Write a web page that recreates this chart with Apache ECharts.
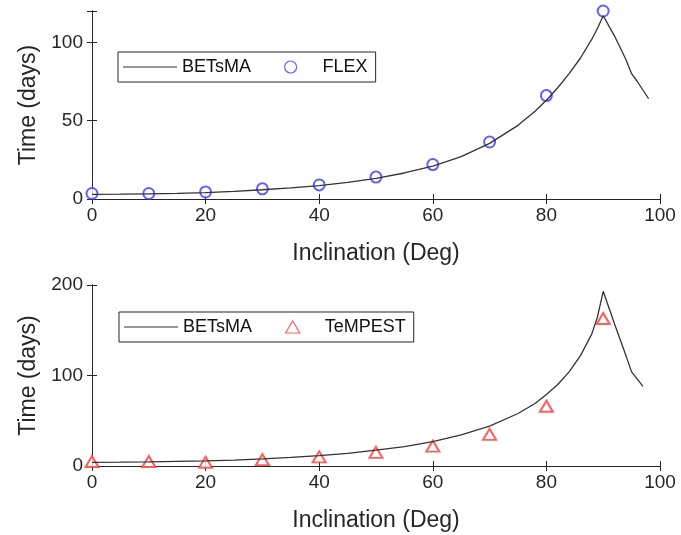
<!DOCTYPE html>
<html><head><meta charset="utf-8">
<script src="https://cdn.jsdelivr.net/npm/echarts@6/dist/echarts.min.js"></script>
<style>html,body{margin:0;padding:0;background:#fff}#c{width:681px;height:535px}</style>
</head><body><div id="c"></div>
<script>
// Top panel: BETsMA vs FLEX
const betsmaTopX = [0,5,10,15,20,25,30,35,40,45,50,55,60,65,70,75,78,80,82,84,86,88,89,90,92,94,95,96,98];
const betsmaTopY = [3,3.1,3.3,3.6,4.1,4.9,5.9,7.1,8.6,10.6,13.2,16.6,21,27,35.5,47,56,63,71,80,90,102,109,117,104,89,80,75,64];
const flexX = [0,10,20,30,40,50,60,70,80,90];
const flexY = [3.5,3.5,4.5,6.5,9,14,22,36.4,66,120];
// Bottom panel: BETsMA vs TeMPEST
const betsmaBotX = [0,5,10,15,20,25,30,35,40,45,50,55,60,65,70,75,78,80,82,84,86,88,89,90,92,94,95,97];
const betsmaBotY = [4,4.2,4.5,5,5.6,6.6,7.8,9.5,11.5,14,17.5,21.5,27,34.5,44,58,69,79,90,104,122,146,165,193,157,122,104,88];
const tempestX = [0,10,20,30,40,50,60,70,80,90];
const tempestY = [5,5,4,7,10,15,22,35,66,163];
const xTicks = [0,20,40,60,80,100];
const topYTicks = [0,50,100];
const botYTicks = [0,100,200];

const pairs = (xs, ys) => xs.map((x, i) => [x, ys[i]]);
const TXT = '#262626';
const FONT = 'Liberation Sans, Arial, sans-serif';
const BLUE = '#3a3aff';
const RED = '#ff3a3a';
const LINE_ICON = 'path://M0,0 H54 V1.2 H0 Z';
const CIRCLE_ICON = 'path://M10,5 A5,5 0 1 1 0,5 A5,5 0 1 1 10,5 Z';
const TRI_ICON = 'path://M6.5,0 L13,11 L0,11 Z';

function xAx(grid) {
  return [{
    type: 'value', gridIndex: grid, min: 0, max: 100, interval: 20, position: 'bottom',
    axisLine: {show: true, lineStyle: {color: TXT, width: 1}},
    axisTick: {show: true, inside: true, length: 5, lineStyle: {color: TXT}},
    axisLabel: {color: TXT, fontSize: 19, fontFamily: FONT, margin: 7,
      formatter: v => xTicks.includes(v) ? String(v) : ''},
    splitLine: {show: false},
    name: 'Inclination (Deg)', nameLocation: 'middle', nameGap: 43,
    nameTextStyle: {color: TXT, fontSize: 23, fontFamily: FONT}
  }, {
    type: 'value', gridIndex: grid, min: 0, max: 100, interval: 20, position: 'top',
    axisLine: {show: true, lineStyle: {color: TXT, width: 1}},
    axisTick: {show: true, inside: true, length: 5, lineStyle: {color: TXT}},
    axisLabel: {show: false}, splitLine: {show: false}
  }];
}
function yAx(grid, max, interval, ticks) {
  return [{
    type: 'value', gridIndex: grid, min: 0, max: max, interval: interval, position: 'left',
    axisLine: {show: true, lineStyle: {color: TXT, width: 1}},
    axisTick: {show: true, inside: true, length: 5, lineStyle: {color: TXT}},
    axisLabel: {color: TXT, fontSize: 19, fontFamily: FONT, margin: 9,
      formatter: v => ticks.includes(v) ? String(v) : ''},
    splitLine: {show: false},
    name: 'Time (days)', nameLocation: 'middle', nameGap: 47,
    nameTextStyle: {color: TXT, fontSize: 23, fontFamily: FONT}
  }, {
    type: 'value', gridIndex: grid, min: 0, max: max, interval: interval, position: 'right',
    axisLine: {show: true, lineStyle: {color: TXT, width: 1}},
    axisTick: {show: true, inside: true, length: 5, lineStyle: {color: TXT}},
    axisLabel: {show: false}, splitLine: {show: false}
  }];
}

const chart = echarts.init(document.getElementById('c'), null, {renderer: 'canvas'});
const lineStyle = {color: '#333333', width: 1.3};
const legendBase = {
  orient: 'horizontal', itemWidth: 54, itemHeight: 12, itemGap: 33,
  padding: [6, 8, 6, 5], symbolKeepAspect: true,
  borderColor: TXT, borderWidth: 1, backgroundColor: '#fff',
  textStyle: {color: '#111', fontSize: 18, fontFamily: FONT},
  selectedMode: false
};
chart.setOption({
  backgroundColor: '#fff',
  animation: false,
  grid: [
    {left: 92, top: 11, width: 568, height: 188, show: false},
    {left: 92, top: 285, width: 568, height: 181, show: false}
  ],
  xAxis: [...xAx(0), ...xAx(1)],
  yAxis: [...yAx(0, 120, 50, topYTicks), ...yAx(1, 200, 100, botYTicks)],
  legend: [Object.assign({}, legendBase, {
    left: 118, top: 52,
    data: [{name: 'BETsMA', icon: LINE_ICON},
           {name: 'FLEX', icon: CIRCLE_ICON, itemStyle: {color: '#fff', borderColor: BLUE, borderWidth: 1.2}}]
  }), Object.assign({}, legendBase, {
    left: 119, top: 312,
    data: [{name: 'BETsMA', icon: LINE_ICON},
           {name: 'TeMPEST', icon: TRI_ICON, itemStyle: {color: '#fff', borderColor: RED, borderWidth: 1.2}}]
  })],
  series: [
    {name: 'BETsMA', type: 'line', xAxisIndex: 0, yAxisIndex: 0, data: pairs(betsmaTopX, betsmaTopY),
      showSymbol: false, symbol: 'none', lineStyle: lineStyle, itemStyle: {color: '#333333'}},
    {name: 'FLEX', type: 'scatter', xAxisIndex: 0, yAxisIndex: 0, data: pairs(flexX, flexY),
      symbol: 'emptyCircle', symbolSize: 11, clip: false,
      itemStyle: {color: BLUE, borderWidth: 1.2}},
    {name: 'BETsMA', type: 'line', xAxisIndex: 2, yAxisIndex: 2, data: pairs(betsmaBotX, betsmaBotY),
      showSymbol: false, symbol: 'none', lineStyle: lineStyle, itemStyle: {color: '#333333'}},
    {name: 'TeMPEST', type: 'scatter', xAxisIndex: 2, yAxisIndex: 2, data: pairs(tempestX, tempestY),
      symbol: 'emptyTriangle', symbolSize: [13, 11], clip: false,
      itemStyle: {color: RED, borderWidth: 1.2}}
  ]
});
</script></body></html>
